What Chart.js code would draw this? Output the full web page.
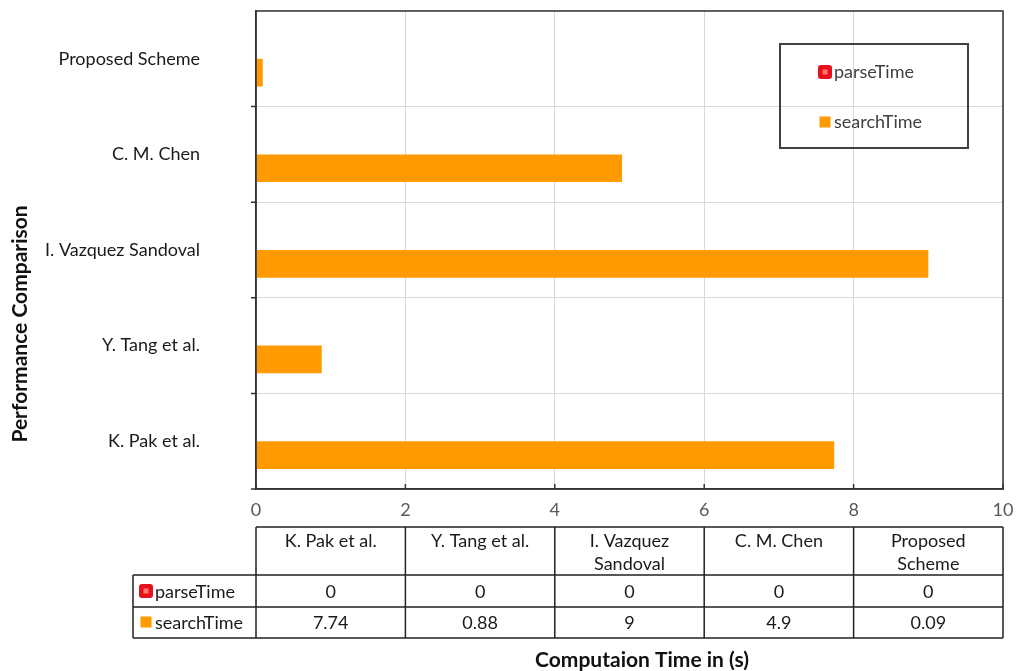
<!DOCTYPE html>
<html>
<head>
<meta charset="utf-8">
<script src="https://cdn.jsdelivr.net/npm/chart.js@4.4.1/dist/chart.umd.min.js"></script>
<style>
  html, body { margin: 0; padding: 0; background: #ffffff; }
  #wrap { position: relative; width: 1017px; height: 671px; }
</style>
</head>
<body>
<div id="wrap"><canvas id="perfChart" width="1017" height="671"></canvas></div>
<script>
// categories in table order (bottom to top on the chart)
const methods = ["K. Pak et al.", "Y. Tang et al.", "I. Vazquez Sandoval", "C. M. Chen", "Proposed Scheme"];
const parseTime = [0, 0, 0, 0, 0];
const searchTime = [7.74, 0.88, 9, 4.9, 0.09];
const xTicks = [0, 2, 4, 6, 8, 10];

const FONT = "Lato, 'Open Sans', sans-serif";
const ORANGE = "#FF9A00";
const RED = "#E8101A";

function wrapText(ctx, text, maxW) {
  const words = text.split(" ");
  const lines = [];
  let cur = "";
  words.forEach((w) => {
    const test = cur ? cur + " " + w : w;
    if (cur && ctx.measureText(test).width > maxW) {
      lines.push(cur);
      cur = w;
    } else {
      cur = test;
    }
  });
  if (cur) lines.push(cur);
  return lines;
}

function drawMarker(ctx, kind, x, y) {
  if (kind === "parseTime") {
    ctx.fillStyle = RED;
    ctx.beginPath();
    ctx.roundRect(x - 7, y - 7, 14, 14, 3);
    ctx.fill();
    ctx.fillStyle = "#FF7A6A";
    ctx.fillRect(x - 2.5, y - 2.5, 5, 5);
  } else {
    ctx.fillStyle = ORANGE;
    ctx.fillRect(x - 5.5, y - 5.5, 11, 11);
  }
}

// frame, small ticks, legend box, data table and axis titles
const extrasPlugin = {
  id: "extras",
  afterDraw(chart) {
    const ctx = chart.ctx;
    const area = chart.chartArea;
    const xs = chart.scales.x;
    const ys = chart.scales.y;
    ctx.save();

    // plot frame
    ctx.strokeStyle = "#333333";
    ctx.lineWidth = 1.5;
    ctx.strokeRect(area.left, area.top, area.right - area.left, area.bottom - area.top);

    // x ticks pointing into the plot, y ticks outward at category edges
    ctx.beginPath();
    xTicks.forEach((v) => {
      const px = xs.getPixelForValue(v);
      ctx.moveTo(px, area.bottom);
      ctx.lineTo(px, area.bottom - 5);
    });
    const band = Math.abs(ys.getPixelForValue(1) - ys.getPixelForValue(0));
    for (let i = 0; i < methods.length; i++) {
      const py = ys.getPixelForValue(i) + band / 2;
      ctx.moveTo(area.left - 5, py);
      ctx.lineTo(area.left, py);
    }
    ctx.stroke();

    // legend
    ctx.strokeStyle = "#404040";
    ctx.lineWidth = 2;
    ctx.strokeRect(780, 44, 188, 104);
    ctx.font = "18px " + FONT;
    ctx.textAlign = "left";
    ctx.textBaseline = "middle";
    [["parseTime", 72], ["searchTime", 122]].forEach(([name, y]) => {
      drawMarker(ctx, name, 825, y);
      ctx.fillStyle = "#404040";
      ctx.fillText(name, 834, y);
    });

    // data table under the axis, columns follow the chart area width
    const colW = (area.right - area.left) / methods.length;
    const tTop = 527, r1 = 575, r2 = 607, tBot = 638, labL = 133;
    ctx.strokeStyle = "#222222";
    ctx.lineWidth = 1.5;
    ctx.beginPath();
    ctx.moveTo(area.left, tTop); ctx.lineTo(area.right, tTop);
    [r1, r2, tBot].forEach((y) => { ctx.moveTo(labL, y); ctx.lineTo(area.right, y); });
    ctx.moveTo(labL, r1); ctx.lineTo(labL, tBot);
    for (let i = 0; i <= methods.length; i++) {
      const x = area.left + i * colW;
      ctx.moveTo(x, tTop); ctx.lineTo(x, tBot);
    }
    ctx.stroke();

    ctx.fillStyle = "#1a1a1a";
    ctx.textAlign = "center";
    ctx.font = "18px " + FONT;
    methods.forEach((m, i) => {
      const cx = area.left + (i + 0.5) * colW;
      const lines = wrapText(ctx, m, 125);
      lines.forEach((ln, k) => ctx.fillText(ln, cx, 541 + k * 23));
      ctx.fillText(String(parseTime[i]), cx, 592);
      ctx.fillText(String(searchTime[i]), cx, 623);
    });
    ctx.textAlign = "left";
    drawMarker(ctx, "parseTime", 146, 591);
    ctx.fillStyle = "#1a1a1a";
    ctx.fillText("parseTime", 155, 592);
    drawMarker(ctx, "searchTime", 146, 622);
    ctx.fillStyle = "#1a1a1a";
    ctx.fillText("searchTime", 155, 623);

    // axis titles
    ctx.font = "bold 21px " + FONT;
    ctx.textAlign = "center";
    ctx.fillStyle = "#111111";
    ctx.fillText("Computaion Time in (s)", 642, 660);
    ctx.translate(20, 324);
    ctx.rotate(-Math.PI / 2);
    ctx.fillText("Performance Comparison", 0, 0);

    ctx.restore();
  },
};

const chartCtx = document.getElementById("perfChart");
new Chart(chartCtx, {
  type: "bar",
  data: {
    labels: methods,
    datasets: [
      {
        label: "parseTime",
        data: parseTime,
        backgroundColor: RED,
        categoryPercentage: 0.58,
        barPercentage: 1.0,
      },
      {
        label: "searchTime",
        data: searchTime,
        backgroundColor: ORANGE,
        categoryPercentage: 0.58,
        barPercentage: 1.0,
      },
    ],
  },
  options: {
    indexAxis: "y",
    responsive: false,
    maintainAspectRatio: false,
    animation: false,
    layout: { padding: { top: 11, right: 14, left: 0, bottom: 0 } },
    scales: {
      x: {
        min: 0,
        max: 10,
        afterBuildTicks: (scale) => {
          scale.ticks = xTicks.map((v) => ({ value: v }));
        },
        afterFit: (scale) => { scale.height = 182; },
        grid: { color: "#D9D9D9", drawTicks: true, tickLength: 10, tickColor: "rgba(0,0,0,0)" },
        border: { color: "#333333", width: 1.5 },
        ticks: {
          color: "#595959",
          padding: 0,
          font: { family: FONT, size: 18 },
        },
      },
      y: {
        reverse: true,
        afterFit: (scale) => { scale.width = 256; },
        grid: {
          color: "#D9D9D9",
          offset: true,
          tickColor: "rgba(0,0,0,0)",
          tickLength: 56,
        },
        border: { color: "#333333", width: 1.5 },
        ticks: {
          color: "#1a1a1a",
          padding: 0,
          font: { family: FONT, size: 18 },
        },
      },
    },
    plugins: {
      legend: { display: false },
      tooltip: { enabled: false },
    },
  },
  plugins: [extrasPlugin],
});
</script>
</body>
</html>
